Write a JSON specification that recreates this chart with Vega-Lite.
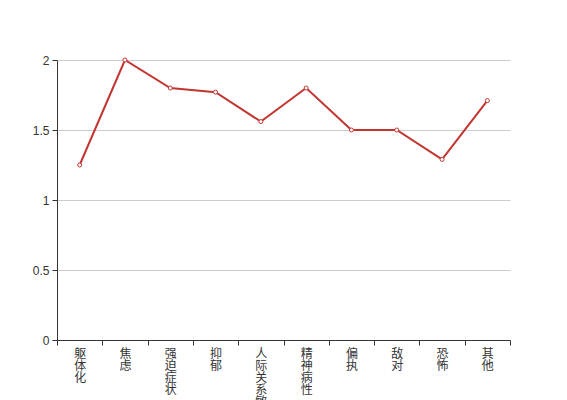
{
  "$schema": "https://vega.github.io/schema/vega-lite/v6.json",
  "autosize": "none",
  "width": 453,
  "height": 280,
  "padding": {"left": 57, "top": 60, "right": 57, "bottom": 60},
  "background": "white",
  "config": {"view": {"stroke": null}, "font": "Noto Sans CJK SC"},
  "data": {"values": [
    {"c": "躯体化", "v": 1.25},
    {"c": "焦虑", "v": 2.0},
    {"c": "强迫症状", "v": 1.8},
    {"c": "抑郁", "v": 1.77},
    {"c": "人际关系敏感", "v": 1.56},
    {"c": "精神病性", "v": 1.8},
    {"c": "偏执", "v": 1.5},
    {"c": "敌对", "v": 1.5},
    {"c": "恐怖", "v": 1.29},
    {"c": "其他", "v": 1.71}
  ]},
  "encoding": {
    "x": {"field": "c", "type": "nominal", "sort": null,
      "scale": {"type": "band", "paddingInner": 0, "paddingOuter": 0},
      "axis": {"title": null, "labelAngle": 0, "tickBand": "extent", "domainColor": "#333", "tickColor": "#333", "tickSize": 5,
        "labelExpr": "split(datum.label, '')", "labelLineHeight": 12, "labelFontSize": 12, "labelColor": "#333", "labelPadding": 3, "labelBaseline": "top", "labelOverlap": false, "grid": false}},
    "y": {"field": "v", "type": "quantitative",
      "scale": {"domain": [0, 2], "nice": false},
      "axis": {"title": null, "values": [0, 0.5, 1, 1.5, 2], "format": "~g", "domainColor": "#333", "tickColor": "#333", "tickSize": 5, "labelPadding": 3, "labelFontSize": 12, "labelColor": "#333", "gridColor": "#ccc", "labelFont": "Liberation Sans", "labelOverlap": false}}
  },
  "layer": [
    {"mark": {"type": "line", "color": "#c23531", "strokeWidth": 2}},
    {"mark": {"type": "point", "filled": true, "fill": "white", "stroke": "#c23531", "strokeWidth": 1, "size": 16, "opacity": 1}}
  ]
}
